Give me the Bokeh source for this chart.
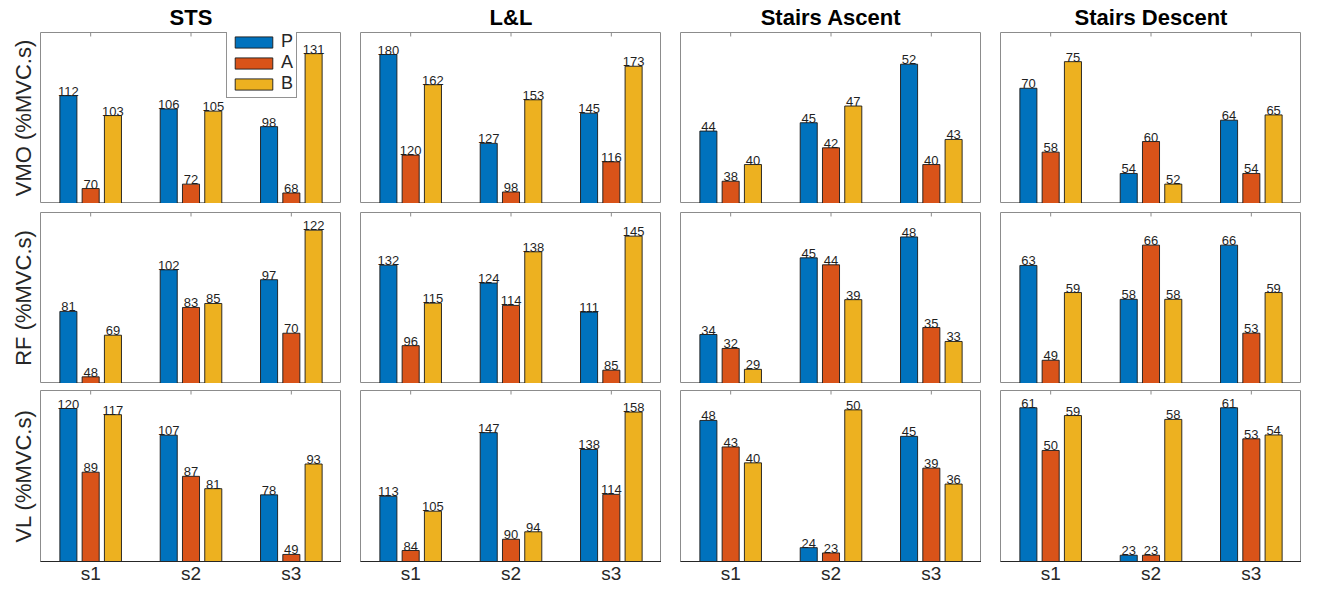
import math
from bokeh.plotting import figure
from bokeh.layouts import gridplot
from bokeh.models import ColumnDataSource, FixedTicker, Range1d, Legend, LegendItem
from bokeh.core.properties import value
from bokeh.embed import file_html
from bokeh.resources import INLINE

# ---------------- data ----------------
sessions = ["s1", "s2", "s3"]
tasks = ["STS", "L&L", "Stairs Ascent", "Stairs Descent"]
muscles = ["VMO", "RF", "VL"]
series = ["P", "A", "B"]
colors = ["#0072BD", "#D95319", "#EDB120"]

# one list per task: values for s1, s2, s3
vmo_P = [[112, 106, 98], [180, 127, 145], [44, 45, 52], [70, 54, 64]]
vmo_A = [[70, 72, 68], [120, 98, 116], [38, 42, 40], [58, 60, 54]]
vmo_B = [[103, 105, 131], [162, 153, 173], [40, 47, 43], [75, 52, 65]]

rf_P = [[81, 102, 97], [132, 124, 111], [34, 45, 48], [63, 58, 66]]
rf_A = [[48, 83, 70], [96, 114, 85], [32, 44, 35], [49, 66, 53]]
rf_B = [[69, 85, 122], [115, 138, 145], [29, 39, 33], [59, 58, 59]]

vl_P = [[120, 107, 78], [113, 147, 138], [48, 24, 45], [61, 23, 61]]
vl_A = [[89, 87, 49], [84, 90, 114], [43, 23, 39], [50, 23, 53]]
vl_B = [[117, 81, 93], [105, 94, 158], [40, 50, 36], [59, 58, 54]]

data = {
    "VMO": [vmo_P, vmo_A, vmo_B],
    "RF": [rf_P, rf_A, rf_B],
    "VL": [vl_P, vl_A, vl_B],
}

# ---------------- layout ----------------
FW, FH = 301, 171
LEFT0, GAP = 40, 19
tops = [32, 9, 7]
BOTTOM_LAST = 23
offsets = [-0.222, 0.0, 0.222]
FONT = "Liberation Sans"
tick_pos = [i + 1 for i in range(len(sessions))]
overrides = {i + 1: s for i, s in enumerate(sessions)}
TICK_LEN = 4

rows = []
for r, m in enumerate(muscles):
    row = []
    for c, t in enumerate(tasks):
        vals = [data[m][k][c] for k in range(3)]
        allv = [v for vs in vals for v in vs]
        lo, hi = 0.93 * min(allv), 1.073 * max(allv)
        kw = {}
        if r != 0:
            kw["title"] = None
        p = figure(frame_width=FW, frame_height=FH,
                   x_range=Range1d(0.5, 3.5), y_range=Range1d(lo, hi),
                   output_backend="svg", toolbar_location=None,
                   min_border_left=LEFT0 if c == 0 else GAP, min_border_right=0,
                   min_border_top=tops[r],
                   min_border_bottom=BOTTOM_LAST if r == 2 else 0,
                   **kw)
        if r == 0:
            p.title.text = t
            p.title.align = "center"
            p.title.text_font = FONT
            p.title.text_font_size = "22px"
            p.title.text_font_style = "bold"
            p.title.text_color = "#000000"
            p.title.standoff = 5
        p.xgrid.visible = False
        p.ygrid.visible = False
        p.outline_line_color = "#8c8c8c"
        p.outline_line_width = 1
        p.background_fill_color = "white"
        p.border_fill_color = "white"

        # y axis
        p.yaxis.ticker = FixedTicker(ticks=[])
        p.yaxis.major_tick_out = 0
        p.yaxis.major_tick_in = 0
        p.yaxis.major_label_standoff = 0
        p.yaxis.axis_line_color = None
        if c == 0:
            p.yaxis.axis_label = f"{m} (%MVC.s)"
            p.yaxis.axis_label_text_font = FONT
            p.yaxis.axis_label_text_font_size = "22px"
            p.yaxis.axis_label_text_font_style = "normal"
            p.yaxis.axis_label_text_color = "#262626"
            p.yaxis.axis_label_standoff = 5
        else:
            p.yaxis.visible = False

        # x axis
        p.xaxis.major_tick_in = 0
        p.xaxis.major_tick_out = 0
        p.xaxis.axis_line_color = "#262626"
        p.xaxis.minor_tick_line_color = None
        if r == 2:
            p.xaxis.ticker = FixedTicker(ticks=tick_pos)
            p.xaxis.major_label_overrides = overrides
            p.xaxis.major_label_text_font = FONT
            p.xaxis.major_label_text_font_size = "19px"
            p.xaxis.major_label_text_color = "#262626"
            p.xaxis.major_label_standoff = 1
        else:
            p.xaxis.ticker = FixedTicker(ticks=[])
            p.xaxis.major_label_standoff = 0

        # inward tick marks (top and bottom) at the session positions
        d = (hi - lo) / FH * TICK_LEN / 2
        p.scatter(x=tick_pos, y=[lo + d] * 3, marker="dash", angle=math.pi / 2,
                  size=TICK_LEN, line_color="#262626", line_width=1)
        p.scatter(x=tick_pos, y=[hi - d] * 3, marker="dash", angle=math.pi / 2,
                  size=TICK_LEN, line_color="#8c8c8c", line_width=1)

        renderers = []
        for k, s in enumerate(series):
            src = ColumnDataSource(dict(
                x=[i + 1 + offsets[k] for i in range(3)],
                top=vals[k],
                label=[str(v) for v in vals[k]],
            ))
            rr = p.vbar(x="x", top="top", bottom=0, width=0.17, source=src,
                        fill_color=colors[k], line_color="#1a1a1a", line_width=0.9)
            renderers.append(rr)
            p.text(x="x", y="top", text="label", source=src,
                   text_align="center", text_baseline="bottom",
                   text_font=value(FONT), text_font_size="13px", text_color="#1f1f1f")

        if r == 0 and c == 0:
            leg = Legend(items=[LegendItem(label=s, renderers=[renderers[k]]) for k, s in enumerate(series)],
                         location=(186, FH - 66))
            leg.glyph_width = 47
            leg.glyph_height = 14
            leg.label_text_font = FONT
            leg.label_text_font_size = "18px"
            leg.label_text_color = "#262626"
            leg.label_standoff = 4
            leg.label_height = 20
            leg.label_width = 12
            leg.padding = 3
            leg.spacing = 0
            leg.margin = 0
            leg.border_line_color = "#262626"
            leg.border_line_width = 1
            leg.background_fill_color = "white"
            leg.background_fill_alpha = 1.0
            p.add_layout(leg)
        row.append(p)
    rows.append(row)

grid = gridplot(rows, toolbar_location=None)
open("out.html", "w").write(file_html(grid, INLINE))
